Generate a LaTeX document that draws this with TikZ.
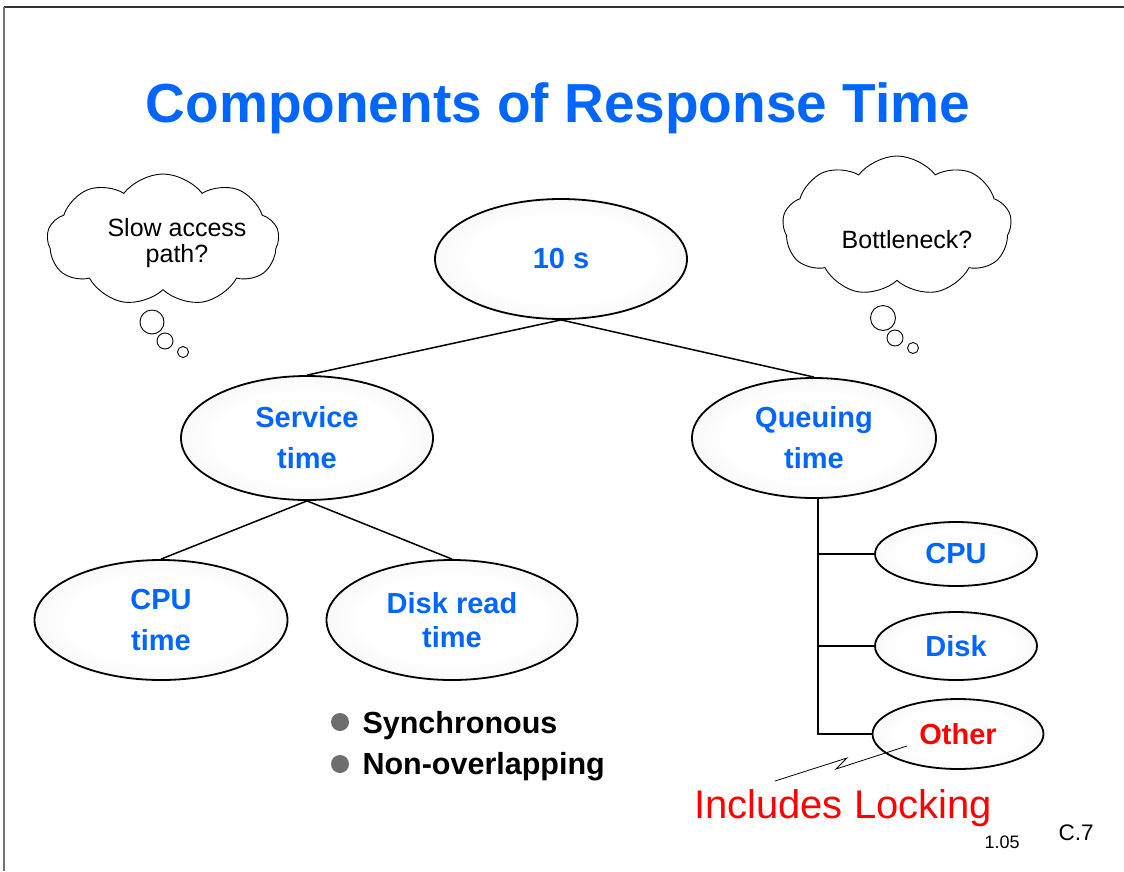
\documentclass[tikz,border=0pt]{standalone}
\usepackage{fontspec}
\setmainfont{Liberation Sans}
\usetikzlibrary{shapes.geometric,shapes.symbols}
\definecolor{tblue}{RGB}{0,102,255}
\definecolor{tred}{RGB}{255,0,0}
\pgfdeclareradialshading{ovalshade}{\pgfpoint{0bp}{0bp}}{color(0bp)=(white); color(18bp)=(white); color(50bp)=(black!11)}
\begin{document}
\begin{tikzpicture}[x=1pt,y=-1pt,
 oval/.style={ellipse, draw=black, line width=1.8pt, inner sep=0pt, shading=ovalshade, font=\fontsize{29}{41}\selectfont\bfseries, text=tblue, align=center},
 link/.style={line width=1.5pt},
 thought/.style={cloud, draw=black, line width=0.9pt, cloud puffs=9, cloud puff arc=105, aspect=1.7, inner sep=0pt, fill=white},
 thtext/.style={font=\fontsize{25}{26}\selectfont, align=center, text=black},
 bubble/.style={circle, draw=black, line width=0.9pt, inner sep=0pt},
 dot/.style={circle, fill=black!57, minimum size=18, inner sep=0pt},
 bullettext/.style={anchor=base west, font=\fontsize{30.5}{34}\selectfont\bfseries}]
\useasboundingbox (0,0) rectangle (1124,871);
% frame
\draw[line width=2pt, black!80] (1124,7) -- (4,7);
\draw[line width=2pt, black!55] (4,7) -- (4,871);
% title
\node[anchor=base, font=\fontsize{55}{60}\selectfont\bfseries, text=tblue] (title) at (558,122) {Components of Response Time};
% tree
\node[oval, minimum width=252, minimum height=120] (ten) at (561,259) {10 s};
\node[oval, minimum width=252, minimum height=124] (serv) at (307,438) {Service\\time};
\node[oval, minimum width=244, minimum height=120] (queue) at (814,438) {Queuing\\time};
\node[oval, minimum width=253, minimum height=120] (cput) at (161,620) {CPU\\time};
\node[oval, minimum width=251, minimum height=120, font=\fontsize{29}{34}\selectfont\bfseries] (disk) at (452,620) {Disk read\\time};
\node[oval, minimum width=162, minimum height=64] (qcpu) at (956,554) {CPU};
\node[oval, minimum width=162, minimum height=68] (qdisk) at (956,646) {Disk};
\node[oval, minimum width=171, minimum height=70, text=tred] (qother) at (958,734) {Other};
\draw[link] (ten.south) -- (serv.north);
\draw[link] (ten.south) -- (queue.north);
\draw[link] (serv.south) -- (cput.north);
\draw[link] (serv.south) -- (disk.north);
\coordinate (qtop) at (818,498);
\draw[link] (qtop) |- (qother.west);
\draw[link] (qcpu.west) -- (qcpu.west -| qtop);
\draw[link] (qdisk.west) -- (qdisk.west -| qtop);
% clouds
\node[thought, minimum width=232, minimum height=132] (lcloud) at (163,240) {};
\node[thtext] (ltext) at (177,243) {Slow access\\path?};
\node[bubble, minimum size=24] (lb1) at (152,322) {};
\node[bubble, minimum size=16] (lb2) at (165,341) {};
\node[bubble, minimum size=11] (lb3) at (183,352) {};
\node[thought, minimum width=229, minimum height=140] (rcloud) at (897,226) {};
\node[thtext] (rtext) at (907,240) {Bottleneck?};
\node[bubble, minimum size=25] (rb1) at (883,318) {};
\node[bubble, minimum size=16] (rb2) at (895,338) {};
\node[bubble, minimum size=11] (rb3) at (913,348) {};
% bullets
\node[dot] (d1) at (340,722) {};
\node[dot] (d2) at (340,764) {};
\node[bullettext] (t1) at (359,733) {Synchronous};
\node[bullettext] (t2) at (359,774) {Non-overlapping};
% locking note
\coordinate (z1) at (907,746);
\coordinate (z2) at (836,769);
\coordinate (z3) at (847,758);
\coordinate (z4) at (775,781);
\draw[line width=0.8pt] (z1) -- (z2) -- (z3) -- (z4);
\node[anchor=base, font=\fontsize{40}{44}\selectfont, text=tred] (lock) at (843,818) {Includes Locking};
\node[anchor=base west, font=\fontsize{18}{20}\selectfont] (ver) at (981,848) {1.05};
\node[anchor=base west, font=\fontsize{22.5}{24}\selectfont] (page) at (1055,840) {C.7};
\end{tikzpicture}
\end{document}
